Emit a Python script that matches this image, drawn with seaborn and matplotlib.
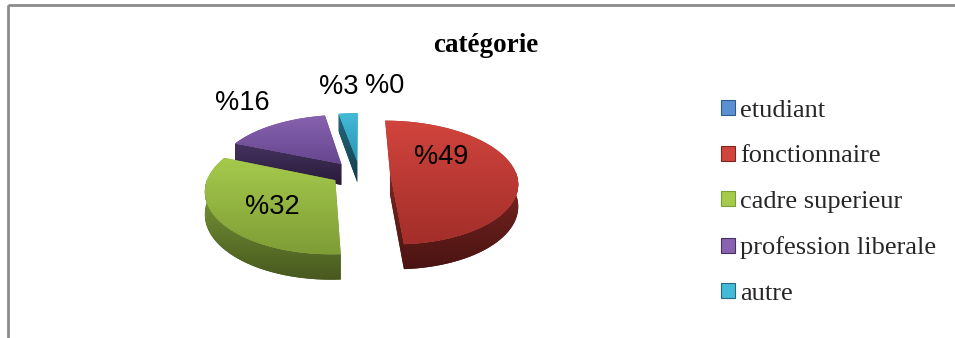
import numpy as np
import matplotlib
matplotlib.use("Agg")
import matplotlib.pyplot as plt
import seaborn as sns
from matplotlib.patches import Polygon, Rectangle, Patch
from matplotlib.colors import to_rgb

# ---- data -------------------------------------------------------------
categories = ["etudiant", "fonctionnaire", "cadre superieur",
              "profession liberale", "autre"]
shares = [0, 49, 32, 16, 3]
title = "catégorie"

# ---- colours (top face light/dark, side light/dark) -------------------
top_light = ["#5B8FD0", "#D1443D", "#A6CA4C", "#8862B0", "#44BAD9"]
top_dark = ["#3A6AA8", "#A32E2A", "#7E9D36", "#66478E", "#2B96B5"]
side_light = ["#2F5A8E", "#7E2622", "#7C9C38", "#45325F", "#23687E"]
side_dark = ["#1E3D63", "#4A1412", "#48591F", "#281B39", "#143F4D"]

# label placement around the pie: (angle in degrees clockwise from 12 o'clock,
# radius as a fraction of the ellipse radius)
label_angle = [8.0, 68.2, 231.9, 320.3, 353.2]
label_radius = [1.41, 0.696, 0.889, 1.467, 1.397]

sns.set_theme(style="white")
plt.rcParams["font.family"] = ["Liberation Serif", "DejaVu Serif"]

W, H = 955, 338
fig = plt.figure(figsize=(W / 100, H / 100), dpi=100)
ax = fig.add_axes([0, 0, 1, 1])
ax.set_xlim(0, W)
ax.set_ylim(H, 0)
ax.axis("off")

# pie geometry in pixel units (tilted disc with mild perspective)
CX, CY = 360, 173
RX, RY = 126, 62
DEPTH = 21.5
EXPLODE_X, EXPLODE_Y = 30, 12
PERSP = 0.16


def project(ox, oy, theta, r=1.0, dz=0.0):
    ex = ox + r * RX * np.sin(theta)
    ey = oy - r * RY * np.cos(theta)
    s = 1 + PERSP * ey / RY
    return np.column_stack([CX + ex * s, CY + (ey + dz) * s])


def flat(theta, r):
    return CX + r * RX * np.sin(theta), CY - r * RY * np.cos(theta)


def gradient_fill(xy, c1, c2, zorder):
    patch = Polygon(xy, closed=True, facecolor=c2, edgecolor="none",
                    zorder=zorder)
    ax.add_patch(patch)
    x0, x1 = xy[:, 0].min(), xy[:, 0].max()
    y0, y1 = xy[:, 1].min(), xy[:, 1].max()
    t = np.linspace(0, 1, 64)[:, None]
    rgb = (1 - t) * np.array(to_rgb(c1)) + t * np.array(to_rgb(c2))
    img = np.repeat(rgb[:, None, :], 4, axis=1)
    im = ax.imshow(img, extent=(x0, x1, y1, y0), origin="upper",
                   aspect="auto", zorder=zorder, interpolation="bilinear")
    im.set_clip_path(patch)
    return patch


total = float(sum(shares))
bounds = np.concatenate([[0], np.cumsum(shares)]) / total * 2 * np.pi

slices = []
for i, v in enumerate(shares):
    a, b = bounds[i], bounds[i + 1]
    if v <= 0:
        continue
    m = 0.5 * (a + b)
    ox, oy = EXPLODE_X * np.sin(m), -EXPLODE_Y * np.cos(m)
    slices.append((oy, i, a, b, ox))

# back-to-front drawing order
slices.sort(key=lambda s: s[0])
for rank, (oy, i, a, b, ox) in enumerate(slices):
    z = 2 + rank * 3
    # radial walls facing the viewer
    for ang, visible in ((a, np.sin(a) < -1e-6), (b, np.sin(b) > 1e-6)):
        if visible:
            quad = np.vstack([project(ox, oy, 0, r=0),
                              project(ox, oy, ang),
                              project(ox, oy, ang, dz=DEPTH),
                              project(ox, oy, 0, r=0, dz=DEPTH)])
            gradient_fill(quad, side_light[i], side_dark[i], z)
    # curved outer wall where it faces the viewer
    lo, hi = max(a, np.pi / 2), min(b, 3 * np.pi / 2)
    if hi > lo:
        th = np.linspace(lo, hi, 120)
        top = project(ox, oy, th)
        bot = project(ox, oy, th, dz=DEPTH)
        wall = np.vstack([top, bot[::-1]])
        gradient_fill(wall, side_light[i], side_dark[i], z + 0.5)
    # top face
    th = np.linspace(a, b, 200)
    face = np.vstack([project(ox, oy, 0, r=0), project(ox, oy, th)])
    gradient_fill(face, top_light[i], top_dark[i], z + 1)

# percentage labels
for i, v in enumerate(shares):
    x, y = flat(np.deg2rad(label_angle[i]), label_radius[i])
    ax.text(x, y, f"%{v}", ha="center", va="center",
            fontsize=19.5, family=["Liberation Sans", "DejaVu Sans"],
            color="black", zorder=30)

# title
ax.text(486, 45, title, ha="center", va="center", fontsize=19.5,
        fontweight="bold", color="black", zorder=30)

# legend
handles = [Patch(facecolor=top_light[i], edgecolor=side_light[i],
                 linewidth=0.8) for i in range(len(categories))]
leg = ax.legend(handles, categories, loc="upper left",
                bbox_to_anchor=(721 / W, 1 - 100 / H),
                bbox_transform=fig.transFigure, frameon=False, fontsize=19,
                handlelength=0.53, handleheight=0.5, handletextpad=0.2,
                labelspacing=0.89, borderpad=0, borderaxespad=0)

# chart frame
ax.add_patch(Rectangle((7.5, 4.5), 2000, 2000, facecolor="none",
                       edgecolor="#8C8C8C", linewidth=2, zorder=40,
                       clip_on=True))

ax.set_xlim(0, W)
ax.set_ylim(H, 0)
fig.savefig("out.png", dpi=100)
